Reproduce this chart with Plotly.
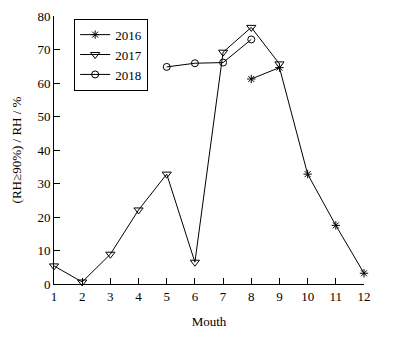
import plotly.graph_objects as go

months_2016 = [8, 9, 10, 11, 12]
vals_2016 = [61.2, 64.6, 32.8, 17.5, 3.2]
months_2017 = [1, 2, 3, 4, 5, 6, 7, 8, 9]
vals_2017 = [5.4, 0.6, 8.9, 22.1, 32.8, 6.5, 69.2, 76.6, 65.7]
months_2018 = [5, 6, 7, 8]
vals_2018 = [64.8, 65.9, 66.1, 73.0]
x_ticks = list(range(1, 13))
y_ticks = [0, 10, 20, 30, 40, 50, 60, 70, 80]

fig = go.Figure()
series = [
    ("2016", months_2016, vals_2016, "asterisk-open", 7),
    ("2017", months_2017, vals_2017, "triangle-down-open", 8),
    ("2018", months_2018, vals_2018, "circle-open", 7),
]
for name, xs, ys, sym, sz in series:
    fig.add_trace(go.Scatter(
        x=xs, y=ys, name=name, mode="lines+markers",
        line=dict(color="black", width=1),
        marker=dict(symbol=sym, size=sz, color="black", line=dict(color="black", width=1)),
        cliponaxis=False,
    ))

font = "Liberation Serif"
fig.update_layout(
    width=395, height=337,
    margin=dict(l=46, r=39, t=8, b=61, autoexpand=False),
    paper_bgcolor="white", plot_bgcolor="white",
    font=dict(family=font, size=13, color="black"),
    showlegend=True,
    legend=dict(
        x=0.065, y=0.99, xanchor="left", yanchor="top",
        bordercolor="black", borderwidth=1, bgcolor="white",
        font=dict(family=font, size=13, color="black"),
        tracegroupgap=0, itemwidth=30,
    ),
    xaxis=dict(
        range=[1, 12], tickvals=x_ticks, ticks="inside", ticklen=6,
        tickcolor="black", showline=True, linecolor="black", linewidth=1,
        showgrid=False, zeroline=False, mirror=False,
        title=dict(text="Mouth", font=dict(family=font, size=13), standoff=14),
        tickfont=dict(family=font, size=13),
    ),
    yaxis=dict(
        range=[0, 80], tickvals=y_ticks, ticks="inside", ticklen=6,
        tickcolor="black", showline=True, linecolor="black", linewidth=1,
        showgrid=False, zeroline=False, mirror=False,
        title=dict(text="(RH≥90%) / RH / %", font=dict(family=font, size=13), standoff=12),
        tickfont=dict(family=font, size=13),
    ),
)

fig.write_html("out.html")
